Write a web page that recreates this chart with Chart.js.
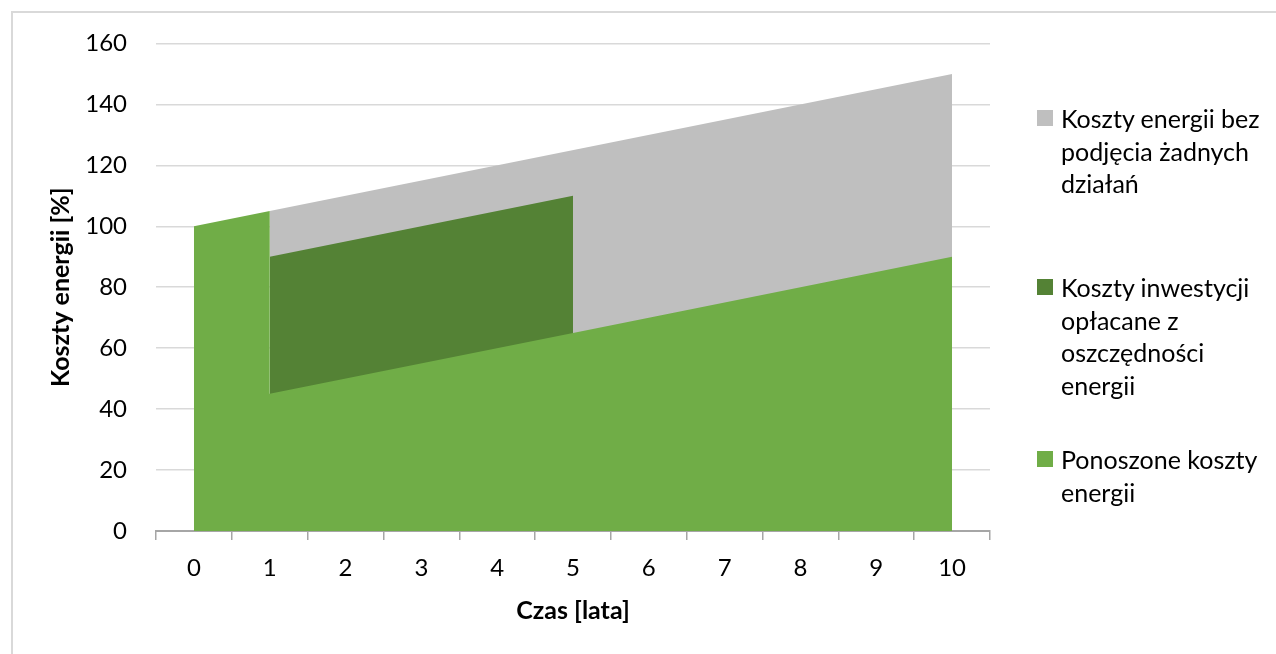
<!DOCTYPE html>
<html>
<head>
<meta charset="utf-8">
<script src="https://cdn.jsdelivr.net/npm/chart.js@4"></script>
<style>
    body { margin: 0; background: #fff; }
    #wrap { position: relative; width: 1276px; height: 654px; overflow: hidden; font-family: Lato, sans-serif; }
    #frame { position: absolute; left: 11px; top: 11px; width: 1400px; height: 800px; border-left: 2px solid #D9D9D9; border-top: 2px solid #D9D9D9; }
    canvas { position: absolute; left: 0; top: 0; }
    .legend-item { position: absolute; left: 1037px; font-size: 25px; line-height: 32.5px; color: #000; }
    .legend-item .box { position: absolute; left: 0; top: 8px; width: 16px; height: 16px; }
    .legend-item .text { margin-left: 24px; white-space: nowrap; }
</style>
</head>
<body>
<div id="wrap">
    <div id="frame"></div>
    <canvas id="chart" width="1276" height="654"></canvas>
    <div id="legend"></div>
</div>
<script>
// tick labels / categories
const years = ["0", "1", "2", "3", "4", "5", "6", "7", "8", "9", "10"];

// series (x = index into years)
const noActionX = [1, 10];
const noActionY = [105, 150];
const investX = [1, 5];
const investY = [90, 110];
const paidX = [0, 1, 1, 5, 10];
const paidY = [100, 105, 45, 65, 90];

const yTicks = [0, 20, 40, 60, 80, 100, 120, 140, 160];

const legendLines = [
    ["Koszty energii bez", "podjęcia żadnych", "działań"],
    ["Koszty inwestycji", "opłacane z", "oszczędności", "energii"],
    ["Ponoszone koszty", "energii"]
];
const colors = ["#BFBFBF", "#548235", "#70AD47"];
const legendTops = [102, 271, 443];

function points(xs, ys) {
    return xs.map((x, i) => ({ x: x, y: ys[i] }));
}

const font = "Lato";

const ctx = document.getElementById("chart").getContext("2d");
new Chart(ctx, {
    type: 'line',
    data: {
        datasets: [
            {
                label: legendLines[2].join(" "),
                data: points(paidX, paidY),
                backgroundColor: colors[2],
                borderWidth: 0,
                pointRadius: 0,
                fill: 'origin',
                order: 0
            },
            {
                label: legendLines[1].join(" "),
                data: points(investX, investY),
                backgroundColor: colors[1],
                borderWidth: 0,
                pointRadius: 0,
                fill: 'origin',
                order: 1
            },
            {
                label: legendLines[0].join(" "),
                data: points(noActionX, noActionY),
                backgroundColor: colors[0],
                borderWidth: 0,
                pointRadius: 0,
                fill: 'origin',
                order: 2
            }
        ]
    },
    options: {
        responsive: false,
        animation: false,
        events: [],
        layout: {
            padding: { left: 0, right: 286, top: 41, bottom: 0 }
        },
        scales: {
            x: {
                type: 'linear',
                min: -0.5,
                max: years.length - 0.5,
                afterFit: scale => { scale.height = 123; },
                ticks: {
                    stepSize: 0.5,
                    autoSkip: false,
                    maxRotation: 0,
                    padding: 14,
                    color: '#000',
                    font: { family: font, size: 24 },
                    callback: v => Number.isInteger(v) ? years[v] : ''
                },
                grid: {
                    drawOnChartArea: false,
                    drawTicks: true,
                    tickLength: 9,
                    lineWidth: 1.5,
                    color: c => Number.isInteger(c.tick.value) ? 'rgba(0,0,0,0)' : '#A6A6A6'
                },
                border: { display: true, color: '#A6A6A6', width: 2 },
                title: {
                    display: true,
                    text: 'Czas [lata]',
                    color: '#000',
                    font: { family: font, size: 25, weight: 'bold' },
                    padding: { top: 0, bottom: 28 }
                }
            },
            y: {
                min: yTicks[0],
                max: yTicks[yTicks.length - 1],
                afterFit: scale => { scale.width = 156; },
                ticks: {
                    stepSize: yTicks[1] - yTicks[0],
                    padding: 29,
                    color: '#000',
                    font: { family: font, size: 24 }
                },
                grid: {
                    drawTicks: false,
                    color: '#D9D9D9',
                    lineWidth: 1.5
                },
                border: { display: false },
                title: {
                    display: true,
                    text: 'Koszty energii [%]',
                    color: '#000',
                    font: { family: font, size: 25, weight: 'bold' },
                    padding: { top: 46, bottom: 0 }
                }
            }
        },
        plugins: {
            legend: { display: false },
            tooltip: { enabled: false }
        }
    }
});

// legend on the right, wrapped like the original
const legend = document.getElementById("legend");
legendLines.forEach((lines, i) => {
    const item = document.createElement("div");
    item.className = "legend-item";
    item.style.top = legendTops[i] + "px";
    item.innerHTML = `<div class="box" style="background:${colors[i]}"></div><div class="text">${lines.join("<br>")}</div>`;
    legend.appendChild(item);
});
</script>
</body>
</html>
